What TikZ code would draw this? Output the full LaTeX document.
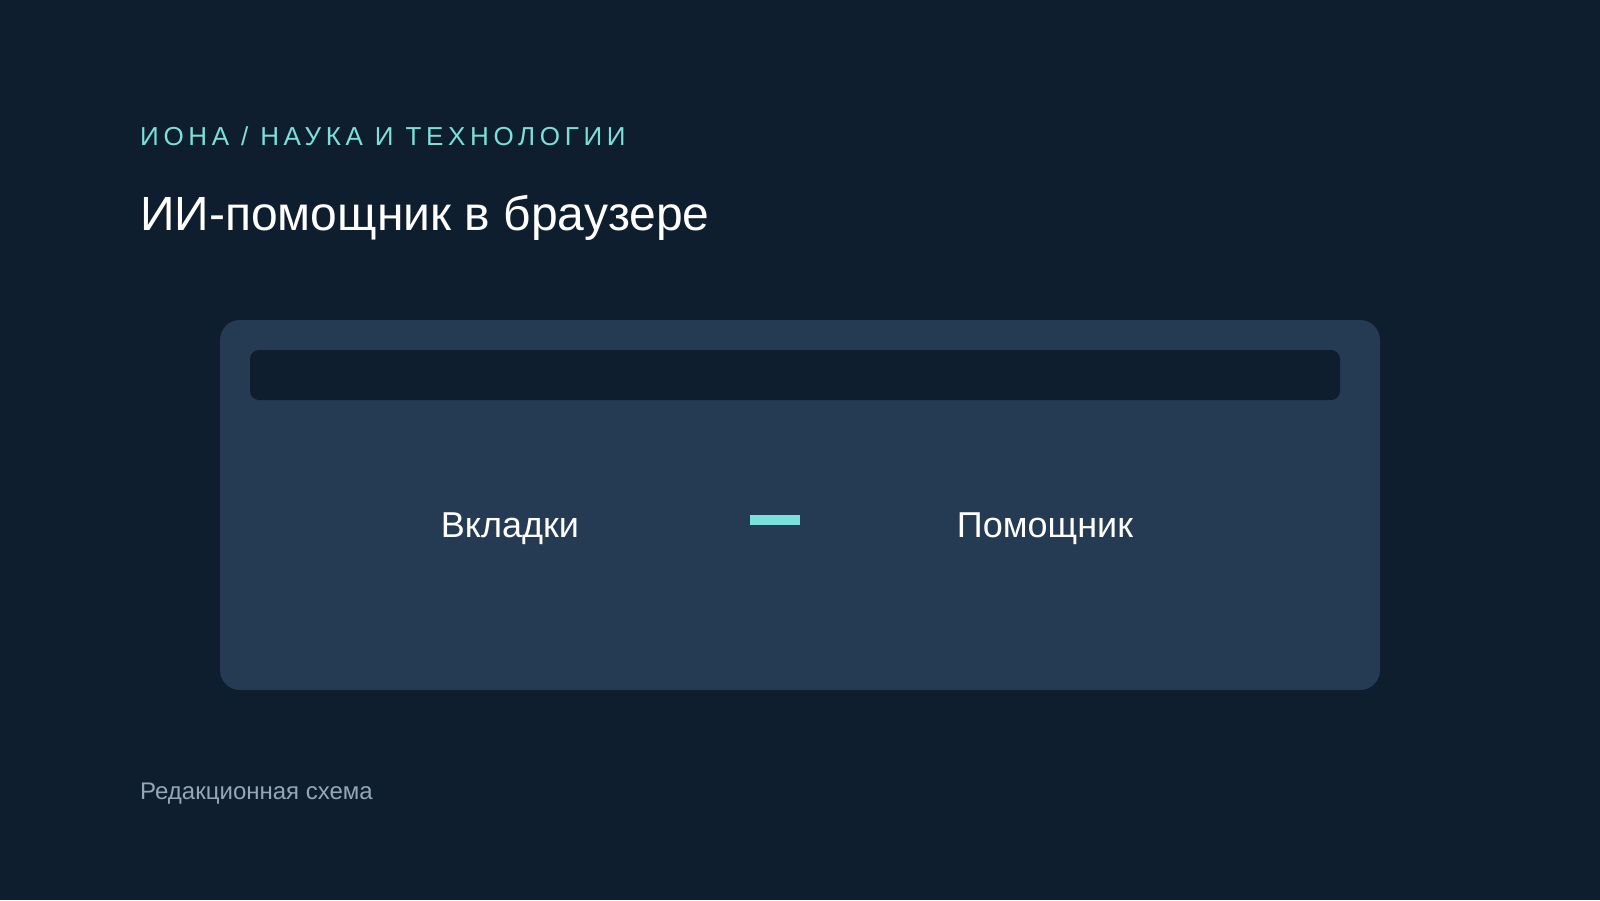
\documentclass[tikz,border=0pt]{standalone}
\usepackage{fontspec}
\setmainfont{Liberation Sans}
\newfontfamily\kickerfont[LetterSpace=18]{Liberation Sans}
\usetikzlibrary{positioning}
\definecolor{bg}{HTML}{0F1E2F}
\definecolor{panel}{HTML}{243B53}
\definecolor{accent}{HTML}{7BDFDA}
\definecolor{muted}{HTML}{93A7B8}

\begin{document}
\begin{tikzpicture}[x=1pt, y=-1pt,
        label_style/.style={inner sep=0pt, anchor=base, text=white, font=\fontsize{36}{42}\selectfont},
        head_style/.style={inner sep=0pt, anchor=base west}]
        \fill[bg] (0, 0) rectangle (1600, 900);
        \useasboundingbox (0, 0) rectangle (1600, 900);
        \node[head_style, text=accent, font=\kickerfont\fontsize{26}{30}\selectfont] (kicker) at (140, 145) {ИОНА / НАУКА И ТЕХНОЛОГИИ};
        \node[head_style, text=white, font=\fontsize{48}{56}\selectfont] (title) at (140, 230) {ИИ-помощник в браузере};
        % browser window
        \fill[panel, rounded corners=20pt] (220, 320) rectangle (1380, 690);
        \fill[bg, rounded corners=9pt] (250, 350) rectangle (1340, 400);
        \node[label_style] (tabs) at (510, 537) {Вкладки};
        \node[label_style] (helper) at (1045, 537) {Помощник};
        \node[fill=accent, inner sep=0pt, minimum width=50pt, minimum height=10pt] (link) at (775, 520) {};
        \node[head_style, text=muted, font=\fontsize{24}{28}\selectfont] (note) at (140, 799) {Редакционная схема};
      \end{tikzpicture}
\end{document}
